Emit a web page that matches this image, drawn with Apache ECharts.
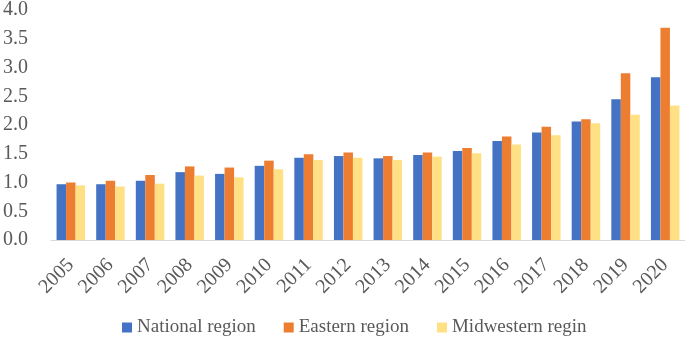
<!DOCTYPE html>
<html>
<head>
<meta charset="utf-8">
<script src="https://cdn.jsdelivr.net/npm/echarts@6/dist/echarts.min.js"></script>
<style>
  html, body { margin: 0; padding: 0; background: #fff; }
  #main { width: 685px; height: 337px; }
</style>
</head>
<body>
<div id="main"></div>
<script>
// data
var years = ["2005", "2006", "2007", "2008", "2009", "2010", "2011", "2012",
  "2013", "2014", "2015", "2016", "2017", "2018", "2019", "2020"];
var national = [0.97, 0.97, 1.03, 1.18, 1.15, 1.29, 1.43, 1.46,
  1.42, 1.48, 1.55, 1.72, 1.87, 2.06, 2.45, 2.83];
var eastern = [1.00, 1.03, 1.13, 1.28, 1.26, 1.38, 1.49, 1.52,
  1.46, 1.52, 1.60, 1.80, 1.97, 2.10, 2.90, 3.69];
var midwestern = [0.95, 0.93, 0.98, 1.12, 1.09, 1.23, 1.39, 1.43,
  1.39, 1.45, 1.51, 1.66, 1.82, 2.03, 2.18, 2.34];

var font = "Liberation Serif";
var textColor = "#595959";

var myChart = echarts.init(document.getElementById("main"));
var option = {
  animation: false,
  grid: { left: 48, right: 0, top: 7, bottom: 97 },
  legend: {
    top: 313,
    left: 117,
    itemWidth: 10,
    itemHeight: 10,
    itemGap: 28,
    icon: "rect",
    textStyle: { fontFamily: font, fontSize: 19, color: textColor },
    data: ["National region", "Eastern region", "Midwestern regin"]
  },
  xAxis: {
    type: "category",
    data: years,
    axisLine: { lineStyle: { color: "#d9d9d9", width: 1 } },
    axisTick: { show: false },
    axisLabel: {
      interval: 0,
      rotate: 45,
      margin: 22,
      fontFamily: font,
      fontSize: 20,
      color: textColor
    }
  },
  yAxis: {
    type: "value",
    min: 0,
    max: 4,
    interval: 0.5,
    splitLine: { show: false },
    axisLine: { show: false },
    axisTick: { show: false },
    axisLabel: {
      margin: 23,
      fontFamily: font,
      fontSize: 20,
      color: textColor,
      formatter: function(v) { return v.toFixed(1); }
    }
  },
  series: [
    {
      name: "National region",
      type: "bar",
      data: national,
      barWidth: 9.5,
      barGap: "0%",
      itemStyle: { color: "#4472C4" }
    },
    {
      name: "Eastern region",
      type: "bar",
      data: eastern,
      barWidth: 9.5,
      barGap: "0%",
      itemStyle: { color: "#ED7D31" }
    },
    {
      name: "Midwestern regin",
      type: "bar",
      data: midwestern,
      barWidth: 9.5,
      barGap: "0%",
      itemStyle: { color: "#FFE085" }
    }
  ]
};
myChart.setOption(option);
</script>
</body>
</html>
